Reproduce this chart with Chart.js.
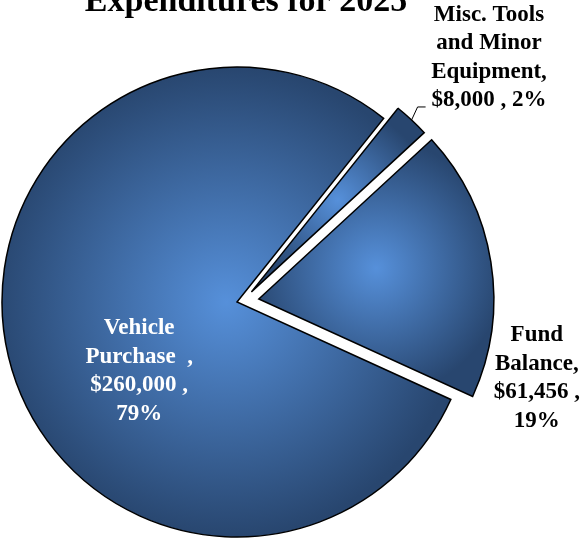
<!DOCTYPE html>
<html>
<head>
<meta charset="utf-8">
<script src="https://cdn.jsdelivr.net/npm/chart.js@4.4.1/dist/chart.umd.min.js"></script>
<style>
  html, body { margin: 0; padding: 0; background: #fff; }
  canvas { display: block; }
</style>
</head>
<body>
<canvas id="budgetPie" width="584" height="539"></canvas>
<script>
// 2025 expenditure breakdown
var title = 'Expenditures for 2025';
var categories = ['Vehicle Purchase', 'Misc. Tools and Minor Equipment', 'Fund Balance'];
var amounts = [260000, 8000, 61456];
// how each category name wraps inside its label
var nameLines = [['Vehicle', 'Purchase  ,'], ['Misc. Tools', 'and Minor', 'Equipment,'], ['Fund', 'Balance,']];
var pctOnValueLine = [false, true, false];

// how far each slice is pulled out (px), turned off its middle angle (deg)
var explode = [
  { dist: 0, turn: 0 },
  { dist: 17.6, turn: 12 },
  { dist: 22, turn: 1.3 }
];
// where each label sits, relative to its slice
var labelSpots = [
  { angle: 144.7, dist: 0.51, color: '#ffffff' },
  { angle: -44.6, dist: 1.42, color: '#000000', leader: true },
  { angle: 15.9, dist: 1.23, color: '#000000' }
];

var total = amounts.reduce(function(a, b) { return a + b; }, 0);

function money(v) { return '$' + v.toLocaleString('en-US'); }
function pct(v) { return Math.round(v / total * 100) + '%'; }

function labelText(i) {
  var lines = nameLines[i].slice();
  if (pctOnValueLine[i]) {
    lines.push(money(amounts[i]) + ' , ' + pct(amounts[i]));
  } else {
    lines.push(money(amounts[i]) + ' ,');
    lines.push(pct(amounts[i]));
  }
  return lines;
}

// pull slices out and shade each one from the middle of its box
var slicePlugin = {
  id: 'slices',
  afterDatasetUpdate: function(chart, args) {
    var ctx = chart.ctx;
    args.meta.data.forEach(function(arc, i) {
      var dir = (arc.startAngle + arc.endAngle) / 2 + explode[i].turn * Math.PI / 180;
      arc.x += Math.cos(dir) * explode[i].dist;
      arc.y += Math.sin(dir) * explode[i].dist;

      var xs = [arc.x], ys = [arc.y];
      for (var a = arc.startAngle; a < arc.endAngle; a += 0.02) {
        xs.push(arc.x + Math.cos(a) * arc.outerRadius);
        ys.push(arc.y + Math.sin(a) * arc.outerRadius);
      }
      xs.push(arc.x + Math.cos(arc.endAngle) * arc.outerRadius);
      ys.push(arc.y + Math.sin(arc.endAngle) * arc.outerRadius);
      var minX = Math.min.apply(null, xs), maxX = Math.max.apply(null, xs);
      var minY = Math.min.apply(null, ys), maxY = Math.max.apply(null, ys);
      var cx = (minX + maxX) / 2, cy = (minY + maxY) / 2;
      var r = Math.max(maxX - minX, maxY - minY) / 2;

      var g = ctx.createRadialGradient(cx, cy, 0, cx, cy, r);
      g.addColorStop(0, '#5690da');
      g.addColorStop(1, '#28466f');
      arc.options.backgroundColor = g;
    });
  }
};

var labelPlugin = {
  id: 'sliceLabels',
  afterDraw: function(chart) {
    var ctx = chart.ctx;
    var arcs = chart.getDatasetMeta(0).data;
    var lh = 28.5;
    ctx.save();
    ctx.font = 'bold 23px "Liberation Serif", "Times New Roman", serif';
    ctx.textAlign = 'center';
    ctx.textBaseline = 'middle';
    arcs.forEach(function(arc, i) {
      var spot = labelSpots[i];
      var a = spot.angle * Math.PI / 180;
      var cx = arc.x + Math.cos(a) * arc.outerRadius * spot.dist;
      var cy = arc.y + Math.sin(a) * arc.outerRadius * spot.dist;
      var lines = labelText(i);
      var top = cy - (lines.length - 1) * lh / 2;
      ctx.fillStyle = spot.color;
      lines.forEach(function(t, k) {
        ctx.fillText(t, cx, top + k * lh);
      });
      if (spot.leader) {
        var mid = (arc.startAngle + arc.endAngle) / 2;
        var px = arc.x + Math.cos(mid) * arc.outerRadius;
        var py = arc.y + Math.sin(mid) * arc.outerRadius;
        ctx.beginPath();
        ctx.moveTo(px, py);
        ctx.lineTo(px + 6, py - 13);
        ctx.lineTo(px + 14, py - 13);
        ctx.strokeStyle = '#000';
        ctx.lineWidth = 1;
        ctx.stroke();
      }
    });

    // title runs off the top edge
    ctx.font = 'bold 34px "Liberation Serif", "Times New Roman", serif';
    ctx.textBaseline = 'alphabetic';
    ctx.fillStyle = '#000';
    ctx.fillText(title, 246, 11);
    ctx.restore();
  }
};

var ctx = document.getElementById('budgetPie').getContext('2d');

var budgetPie = new Chart(ctx, {
  type: 'pie',
  data: {
    labels: categories,
    datasets: [{
      data: amounts,
      backgroundColor: ['#3a629a', '#3a629a', '#3a629a'],
      borderColor: '#000000',
      borderWidth: 1.5,
      borderJoinStyle: 'miter'
    }]
  },
  options: {
    responsive: false,
    animation: false,
    events: [],
    rotation: 114.5,
    radius: 235,
    layout: { padding: { left: 0, right: 110, top: 65, bottom: 0 } },
    plugins: {
      legend: { display: false },
      tooltip: { enabled: false },
      title: { display: false }
    }
  },
  plugins: [slicePlugin, labelPlugin]
});
</script>
</body>
</html>
